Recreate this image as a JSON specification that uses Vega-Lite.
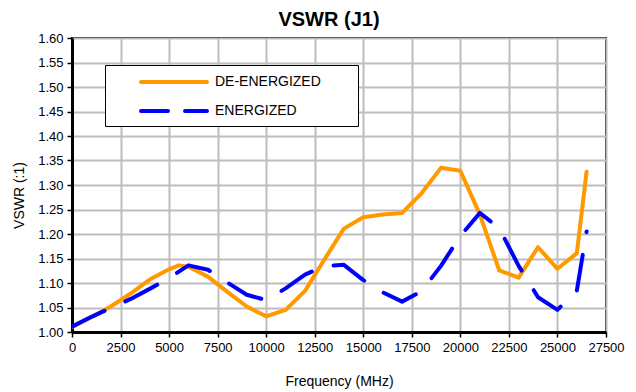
{
  "$schema": "https://vega.github.io/schema/vega-lite/v6.json",
  "width": 534,
  "height": 294,
  "autosize": {"type": "none"},
  "padding": {"left": 72, "top": 38, "right": 30, "bottom": 60},
  "background": "white",
  "title": {"text": "VSWR (J1)", "fontSize": 20, "fontWeight": "bold", "font": "Liberation Sans", "color": "black", "anchor": "middle", "offset": 2, "dx": -10},
  "config": {
    "font": "Liberation Sans",
    "view": {"stroke": "black", "strokeWidth": 2},
    "axis": {
      "labelFont": "Liberation Sans", "labelFontSize": 13, "labelColor": "black",
      "titleFont": "Liberation Sans", "titleFontSize": 14, "titleFontWeight": "normal", "titleColor": "black",
      "tickColor": "black", "tickSize": 5, "tickWidth": 1.5,
      "domainColor": "black", "domainWidth": 3,
      "gridColor": "#bdbdbd", "gridWidth": 2
    }
  },
  "data": {"values": [
    {"f": 0, "v": 1.010, "s": "DE-ENERGIZED"},
    {"f": 1000, "v": 1.030, "s": "DE-ENERGIZED"},
    {"f": 2000, "v": 1.052, "s": "DE-ENERGIZED"},
    {"f": 3000, "v": 1.078, "s": "DE-ENERGIZED"},
    {"f": 4000, "v": 1.107, "s": "DE-ENERGIZED"},
    {"f": 5000, "v": 1.128, "s": "DE-ENERGIZED"},
    {"f": 5500, "v": 1.136, "s": "DE-ENERGIZED"},
    {"f": 6000, "v": 1.133, "s": "DE-ENERGIZED"},
    {"f": 7000, "v": 1.113, "s": "DE-ENERGIZED"},
    {"f": 8000, "v": 1.082, "s": "DE-ENERGIZED"},
    {"f": 9000, "v": 1.052, "s": "DE-ENERGIZED"},
    {"f": 10000, "v": 1.032, "s": "DE-ENERGIZED"},
    {"f": 11000, "v": 1.045, "s": "DE-ENERGIZED"},
    {"f": 12000, "v": 1.084, "s": "DE-ENERGIZED"},
    {"f": 13000, "v": 1.148, "s": "DE-ENERGIZED"},
    {"f": 14000, "v": 1.211, "s": "DE-ENERGIZED"},
    {"f": 15000, "v": 1.234, "s": "DE-ENERGIZED"},
    {"f": 16000, "v": 1.240, "s": "DE-ENERGIZED"},
    {"f": 17000, "v": 1.243, "s": "DE-ENERGIZED"},
    {"f": 18000, "v": 1.283, "s": "DE-ENERGIZED"},
    {"f": 19000, "v": 1.335, "s": "DE-ENERGIZED"},
    {"f": 20000, "v": 1.329, "s": "DE-ENERGIZED"},
    {"f": 21000, "v": 1.240, "s": "DE-ENERGIZED"},
    {"f": 22000, "v": 1.126, "s": "DE-ENERGIZED"},
    {"f": 23000, "v": 1.111, "s": "DE-ENERGIZED"},
    {"f": 24000, "v": 1.173, "s": "DE-ENERGIZED"},
    {"f": 25000, "v": 1.129, "s": "DE-ENERGIZED"},
    {"f": 26000, "v": 1.161, "s": "DE-ENERGIZED"},
    {"f": 26500, "v": 1.327, "s": "DE-ENERGIZED"},
    {"f": 0, "v": 1.011, "s": "ENERGIZED"},
    {"f": 1000, "v": 1.031, "s": "ENERGIZED"},
    {"f": 2000, "v": 1.049, "s": "ENERGIZED"},
    {"f": 3000, "v": 1.067, "s": "ENERGIZED"},
    {"f": 4000, "v": 1.088, "s": "ENERGIZED"},
    {"f": 5000, "v": 1.110, "s": "ENERGIZED"},
    {"f": 6000, "v": 1.136, "s": "ENERGIZED"},
    {"f": 7000, "v": 1.127, "s": "ENERGIZED"},
    {"f": 8000, "v": 1.101, "s": "ENERGIZED"},
    {"f": 9000, "v": 1.076, "s": "ENERGIZED"},
    {"f": 10000, "v": 1.065, "s": "ENERGIZED"},
    {"f": 11000, "v": 1.089, "s": "ENERGIZED"},
    {"f": 12000, "v": 1.117, "s": "ENERGIZED"},
    {"f": 13000, "v": 1.135, "s": "ENERGIZED"},
    {"f": 14000, "v": 1.137, "s": "ENERGIZED"},
    {"f": 15000, "v": 1.106, "s": "ENERGIZED"},
    {"f": 16000, "v": 1.081, "s": "ENERGIZED"},
    {"f": 17000, "v": 1.062, "s": "ENERGIZED"},
    {"f": 18000, "v": 1.083, "s": "ENERGIZED"},
    {"f": 19000, "v": 1.135, "s": "ENERGIZED"},
    {"f": 20000, "v": 1.196, "s": "ENERGIZED"},
    {"f": 21000, "v": 1.243, "s": "ENERGIZED"},
    {"f": 22000, "v": 1.212, "s": "ENERGIZED"},
    {"f": 23000, "v": 1.135, "s": "ENERGIZED"},
    {"f": 24000, "v": 1.071, "s": "ENERGIZED"},
    {"f": 25000, "v": 1.045, "s": "ENERGIZED"},
    {"f": 26000, "v": 1.085, "s": "ENERGIZED"},
    {"f": 26500, "v": 1.205, "s": "ENERGIZED"}
  ]},
  "encoding": {
    "x": {
      "field": "f", "type": "quantitative",
      "scale": {"domain": [0, 27500], "nice": false, "zero": false},
      "axis": {"title": "Frequency (MHz)", "values": [0, 2500, 5000, 7500, 10000, 12500, 15000, 17500, 20000, 22500, 25000, 27500], "format": "d", "labelPadding": 4, "titleBaseline": "middle", "titleY": 49, "labelFlush": false, "labelOverlap": false}
    },
    "y": {
      "field": "v", "type": "quantitative",
      "scale": {"domain": [1.0, 1.6], "nice": false, "zero": false},
      "axis": {"title": "VSWR (:1)", "values": [1.0, 1.05, 1.1, 1.15, 1.2, 1.25, 1.3, 1.35, 1.4, 1.45, 1.5, 1.55, 1.6], "format": ".2f", "labelPadding": 4, "titleBaseline": "middle", "titleX": -53, "titleY": 157, "labelFlush": false, "labelOverlap": false}
    },
    "color": {
      "field": "s", "type": "nominal",
      "scale": {"domain": ["DE-ENERGIZED", "ENERGIZED"], "range": ["#FF9900", "#0000FF"]},
      "legend": {
        "title": null, "orient": "none", "legendX": 33, "legendY": 27,
        "strokeColor": "black", "fillColor": "white",
        "padding": 7, "rowPadding": 11,
        "symbolType": "M0,0L8.25,0M25.25,0", "symbolSize": 256, "symbolStrokeWidth": 4,
        "symbolOffset": 19, "labelOffset": 64,
        "labelFont": "Liberation Sans", "labelFontSize": 14, "labelColor": "black",
        "encode": {"symbols": {"update": {"strokeDash": {"signal": "datum.value == 'ENERGIZED' ? [27, 17] : [1, 0]"}, "strokeCap": {"value": "round"}}}}
      }
    }
  },
  "layer": [
    {
      "transform": [{"filter": "datum.s == 'DE-ENERGIZED'"}],
      "mark": {"type": "line", "strokeWidth": 4, "strokeCap": "round", "strokeJoin": "round", "clip": true}
    },
    {
      "transform": [{"filter": "datum.s == 'ENERGIZED'"}],
      "mark": {"type": "line", "strokeWidth": 4, "strokeCap": "round", "strokeJoin": "round", "strokeDash": [36, 23], "clip": true}
    }
  ]
}
